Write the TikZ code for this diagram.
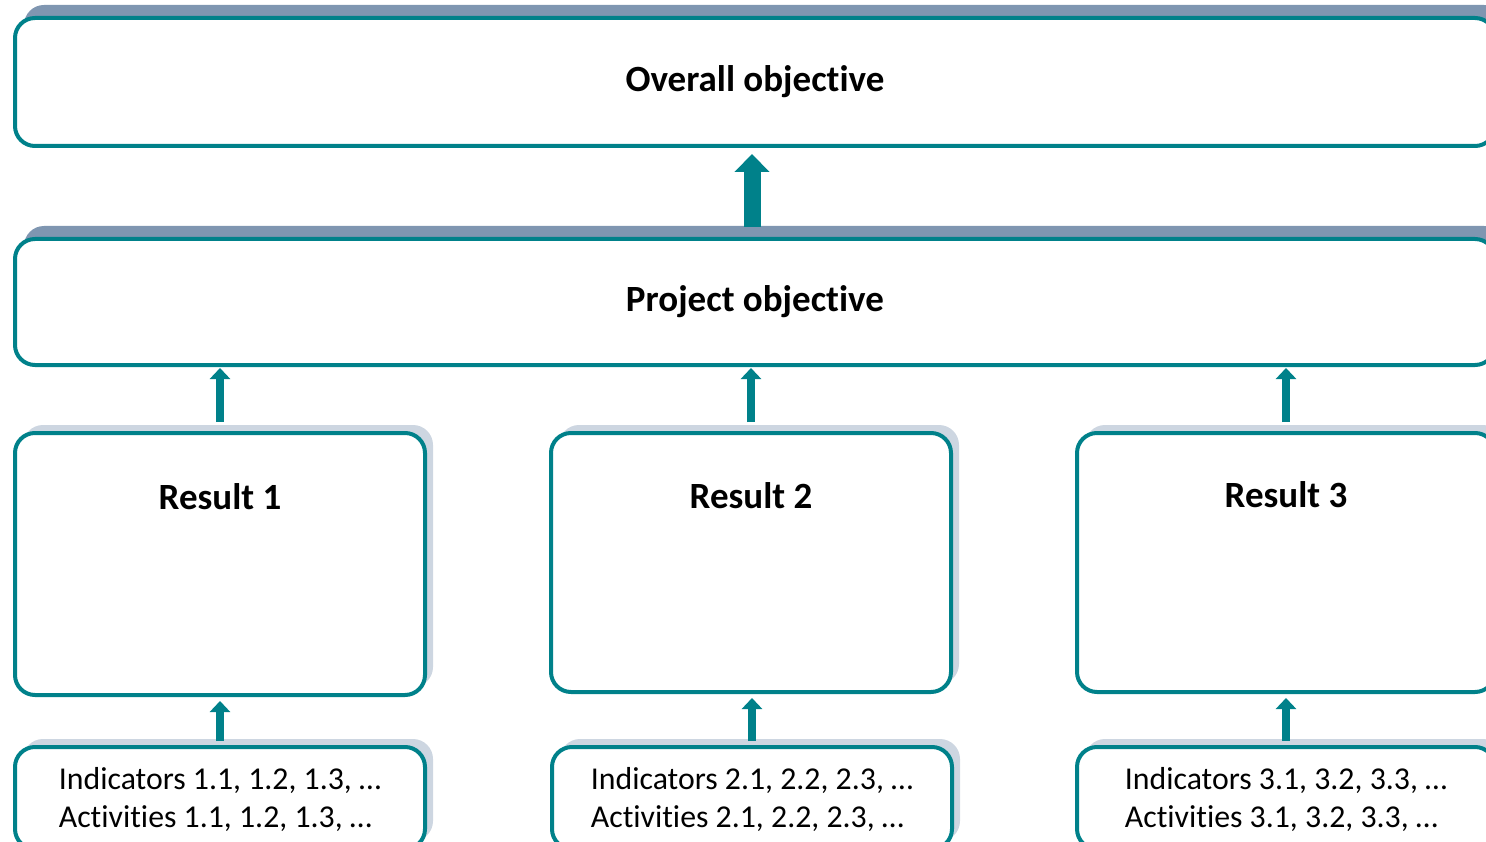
\documentclass[tikz,border=0pt]{standalone}
\usepackage{fontspec}
\setmainfont{Carlito}[RawFeature=-liga]
\usetikzlibrary{arrows.meta,shadows}
\definecolor{teal1}{RGB}{0,129,138}
\definecolor{shadowdark}{RGB}{127,150,177}
\definecolor{shadowlight}{RGB}{205,214,225}
\tikzset{
  box/.style={draw=teal1, line width=4pt, fill=white, rounded corners=20pt, outer sep=0pt, inner sep=0pt},
  bigshadow/.style={general shadow={fill=shadowdark, shadow xshift=9pt, shadow yshift=13pt}},
  smallshadow/.style={general shadow={fill=shadowlight, shadow xshift=8pt, shadow yshift=8pt}},
  titlefont/.style={font=\fontsize{37}{44}\selectfont\bfseries},
  listfont/.style={font=\fontsize{31.8}{38}\selectfont, align=left},
  bigarrow/.style={draw=teal1, line width=17pt, -{Triangle[width=34pt,length=18pt]}},
  smallarrow/.style={draw=teal1, line width=8pt, -{Triangle[width=20pt,length=11pt]}}
}
\begin{document}
\begin{tikzpicture}[x=1pt,y=-1pt]
\useasboundingbox (0,0) rectangle (1486,842);
\clip (0,0) rectangle (1486,842);
% top boxes
\node[box, bigshadow, minimum width=1480pt, minimum height=128pt, titlefont] (over) at (755,82) {Overall objective};
\node[box, bigshadow, minimum width=1480pt, minimum height=126pt, titlefont] (proj) at (755,302) {Project objective};
% result boxes
\node[box, smallshadow, minimum width=410pt, minimum height=262pt] (res1) at (220,564) {};
\node[box, smallshadow, minimum width=400pt, minimum height=259pt] (res2) at (751,562.5) {};
\node[box, smallshadow, minimum width=418pt, minimum height=259pt] (res3) at (1286,562.5) {};
\node[titlefont] (t1) at ([yshift=-64pt]res1.north) {Result 1};
\node[titlefont] (t2) at ([yshift=-63pt]res2.north) {Result 2};
\node[titlefont] (t3) at ([yshift=-62pt]res3.north) {Result 3};
% indicator boxes
\node[box, smallshadow, minimum width=410pt, minimum height=102pt] (ind1) at (220,798) {};
\node[box, smallshadow, minimum width=400pt, minimum height=102pt] (ind2) at (752,798) {};
\node[box, smallshadow, minimum width=418pt, minimum height=102pt] (ind3) at (1286,798) {};
\node[listfont] (l1) at (220,799) {Indicators 1.1, 1.2, 1.3, …\\Activities 1.1, 1.2, 1.3, …};
\node[listfont] (l2) at (752,799) {Indicators 2.1, 2.2, 2.3, …\\Activities 2.1, 2.2, 2.3, …};
\node[listfont] (l3) at (1286,799) {Indicators 3.1, 3.2, 3.3, …\\Activities 3.1, 3.2, 3.3, …};
% arrows
\draw[bigarrow, shorten >=8pt] ([xshift=-3pt,yshift=12pt]proj.north) -- ([xshift=-3pt]over.south);
\draw[smallarrow, shorten >=3pt] ([yshift=11pt]res1.north) -- (res1.north |- proj.south);
\draw[smallarrow, shorten >=3pt] ([yshift=11pt]res2.north) -- (res2.north |- proj.south);
\draw[smallarrow, shorten >=3pt] ([yshift=11pt]res3.north) -- (res3.north |- proj.south);
\draw[smallarrow, shorten >=6pt] ([yshift=6pt]ind1.north) -- (ind1.north |- res1.south);
\draw[smallarrow, shorten >=6pt] ([yshift=6pt]ind2.north) -- (ind2.north |- res2.south);
\draw[smallarrow, shorten >=6pt] ([yshift=6pt]ind3.north) -- (ind3.north |- res3.south);
\end{tikzpicture}
\end{document}
